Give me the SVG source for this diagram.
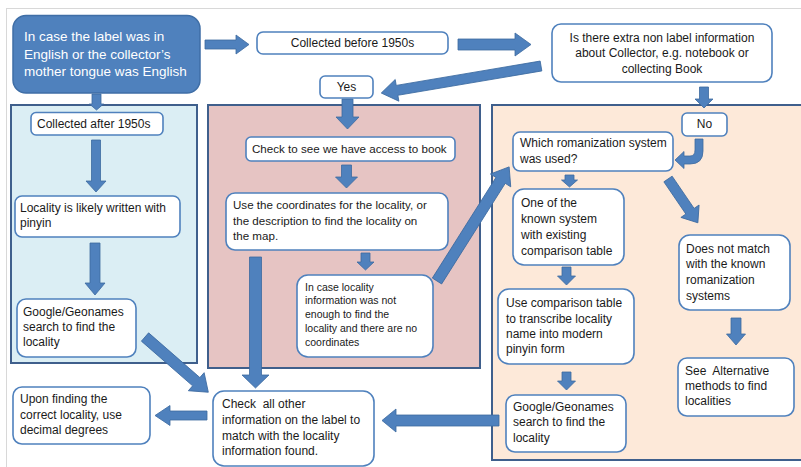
<svg xmlns="http://www.w3.org/2000/svg" width="801" height="467" viewBox="0 0 801 467">
<style>
.frame{fill:none;stroke:#d8d8d8;stroke-width:1}
.panel{stroke:#3f5f8c;stroke-width:2}
.box{fill:#fff;stroke:#4f81bd;stroke-width:1.6}
.arr{fill:#4f81bd;stroke:#3c6aa0;stroke-width:0.8}
text{font-family:"Liberation Sans",Arial,sans-serif;font-size:12px;fill:#1a1a1a}
.c{text-anchor:middle}
.w{fill:#fff;font-size:13.5px}
.s{font-size:10.5px}
.m{font-size:11.6px}
</style>
<rect x="0" y="0" width="801" height="467" fill="#fff"/>
<rect class="frame" x="6.5" y="8.5" width="820" height="480"/>
<g id="panels">
<rect class="panel" x="11" y="105" width="186" height="258" fill="#dbeef4"/>
<rect class="panel" x="208" y="105" width="272" height="263" fill="#e6c4c3"/>
<rect class="panel" x="492" y="105" width="330" height="355" fill="#fde9d9"/>
</g>
<g id="connectors">
<polygon class="arr" points="205,40 236,40 236,35 249,44.5 236,54 236,49 205,49"/>
<polygon class="arr" points="458,39 515,39 515,33 531,44.5 515,56 515,50 458,50"/>
<polygon class="arr" transform="translate(541,66) rotate(170.4)" points="0,-5 146,-5 146,-11 162,0 146,11 146,5 0,5"/>
<polygon class="arr" points="342,99 353,99 353,117 359,117 347.5,129 336,117 342,117"/>
<polygon class="arr" points="341.5,165 351.5,165 351.5,177 357.5,177 346.5,188 335.5,177 341.5,177"/>
<polygon class="arr" points="361,253 370,253 370,262 374,262 365.5,270 357,262 361,262"/>
<polygon class="arr" points="249.5,257 261.5,257 261.5,375 269,375 255.5,388 242,375 249.5,375"/>
<polygon class="arr" transform="translate(437,281) rotate(-57.7)" points="0,-5.5 119,-5.5 119,-12 135,0 119,12 119,5.5 0,5.5"/>
<polygon class="arr" points="699.5,87 708.5,87 708.5,99 713,99 704,108 695,99 699.5,99"/>
<path class="arr" d="M703,139 L703,151 Q703,164 690,164 L684,164 L684,168.5 L675,160 L684,151.5 L684,156 L690,156 Q695,156 695,150 L695,139 Z"/>
<polygon class="arr" points="565,175 574,175 574,180 577.5,180 569.5,187 561.5,180 565,180"/>
<polygon class="arr" transform="translate(668,179) rotate(55.7)" points="0,-5 39,-5 39,-11 53,0 39,11 39,5 0,5"/>
<polygon class="arr" points="562,267 571,267 571,276 575.5,276 566.5,285 557.5,276 562,276"/>
<polygon class="arr" points="731,318 741,318 741,334 745.5,334 736,345 726.5,334 731,334"/>
<polygon class="arr" points="562,372 571,372 571,381 575.5,381 566.5,390 557.5,381 562,381"/>
<polygon class="arr" points="499,415 396,415 396,409 382,420.5 396,432 396,426 499,426"/>
<polygon class="arr" points="207,411 170,411 170,405.5 155,415.5 170,425.5 170,420 207,420"/>
<polygon class="arr" points="92,94 101,94 101,104 103.5,104 96.5,110 89.5,104 92,104"/>
<polygon class="arr" points="91.5,140 100.5,140 100.5,181 106,181 96,192 86,181 91.5,181"/>
<polygon class="arr" points="90,243 100,243 100,283 105,283 95,295 85,283 90,283"/>
<polygon class="arr" transform="translate(145,337) rotate(41.1)" points="0,-5.5 68,-5.5 68,-12 84,0 68,12 68,5.5 0,5.5"/>
</g>
<g id="start">
<rect x="13" y="15.5" width="187" height="77.5" rx="13" fill="#4f81bd" stroke="#3f6ea6" stroke-width="1.5"/>
<text class="w" x="24" y="41">In case the label was in</text>
<text class="w" x="24" y="59">English or the collector’s</text>
<text class="w" x="24" y="76">mother tongue was English</text>
</g>
<g id="before1950">
<rect class="box" x="257" y="32" width="191" height="22" rx="6"/>
<text class="c" x="352.5" y="47">Collected before 1950s</text>
</g>
<g id="extrainfo">
<rect class="box" x="552" y="24" width="220" height="58" rx="9"/>
<text class="c" x="662" y="42">Is there extra non label information</text>
<text class="c" x="662" y="57">about Collector, e.g. notebook or</text>
<text class="c" x="662" y="73">collecting Book</text>
</g>
<g id="yes">
<rect class="box" x="320" y="76" width="53" height="22" rx="5"/>
<text class="c" x="346.5" y="91">Yes</text>
</g>
<g id="after1950">
<rect class="box" x="31" y="112.5" width="132" height="22.5" rx="5"/>
<text x="37" y="128">Collected after 1950s</text>
</g>
<g id="pinyin">
<rect class="box" x="15" y="196" width="165" height="41" rx="7"/>
<text x="20" y="212">Locality is likely written with</text>
<text x="20" y="227">pinyin</text>
</g>
<g id="google1">
<rect class="box" x="17" y="299" width="119" height="58" rx="9"/>
<text x="23" y="316">Google/Geonames</text>
<text x="23" y="331">search to find the</text>
<text x="23" y="346">locality</text>
</g>
<g id="checkbook">
<rect class="box" x="246" y="137" width="209" height="24" rx="5"/>
<text class="m" x="252" y="153">Check to see we have access to book</text>
</g>
<g id="coords">
<rect class="box" x="226" y="193" width="222" height="57" rx="9"/>
<text class="m" x="233" y="209">Use the coordinates for the locality, or</text>
<text class="m" x="233" y="225">the description to find the locality on</text>
<text class="m" x="233" y="240">the map.</text>
</g>
<g id="incase">
<rect class="box" x="297" y="275" width="136" height="82" rx="11"/>
<text class="s" x="305" y="291">In case locality</text>
<text class="s" x="305" y="304">information was not</text>
<text class="s" x="305" y="318">enough to find the</text>
<text class="s" x="305" y="332">locality and there are no</text>
<text class="s" x="305" y="346">coordinates</text>
</g>
<g id="no">
<rect class="box" x="682" y="113" width="45" height="23" rx="5"/>
<text class="c" x="704.5" y="128">No</text>
</g>
<g id="romanization">
<rect class="box" x="513" y="132" width="160" height="39" rx="7"/>
<text x="520" y="147">Which romanization system</text>
<text x="520" y="163">was used?</text>
</g>
<g id="known">
<rect class="box" x="513" y="189" width="111" height="76" rx="11"/>
<text x="521" y="207">One of the</text>
<text x="521" y="223">known system</text>
<text x="521" y="239">with existing</text>
<text x="521" y="255">comparison table</text>
</g>
<g id="transcribe">
<rect class="box" x="498" y="289" width="136" height="75" rx="11"/>
<text x="506" y="307">Use comparison table</text>
<text x="506" y="323">to transcribe locality</text>
<text x="506" y="338">name into modern</text>
<text x="506" y="353">pinyin form</text>
</g>
<g id="nomatch">
<rect class="box" x="679" y="235" width="111" height="75" rx="11"/>
<text x="686" y="253">Does not match</text>
<text x="686" y="268">with the known</text>
<text x="686" y="284">romanization</text>
<text x="686" y="300">systems</text>
</g>
<g id="alternative">
<rect class="box" x="678" y="358" width="116" height="58" rx="9"/>
<text x="685" y="375" xml:space="preserve">See  Alternative</text>
<text x="685" y="390">methods to find</text>
<text x="685" y="405">localities</text>
</g>
<g id="google2">
<rect class="box" x="506" y="395" width="120" height="57" rx="9"/>
<text x="513" y="411">Google/Geonames</text>
<text x="513" y="426">search to find the</text>
<text x="513" y="442">locality</text>
</g>
<g id="checkall">
<rect class="box" x="213" y="391" width="161" height="75" rx="11"/>
<text x="222" y="408" xml:space="preserve">Check  all other</text>
<text x="222" y="424">information on the label to</text>
<text x="222" y="440">match with the locality</text>
<text x="222" y="455">information found.</text>
</g>
<g id="decimal">
<rect class="box" x="13" y="387" width="137" height="57" rx="9"/>
<text x="20" y="403">Upon finding the</text>
<text x="20" y="419">correct locality, use</text>
<text x="20" y="434">decimal degrees</text>
</g>
</svg>
